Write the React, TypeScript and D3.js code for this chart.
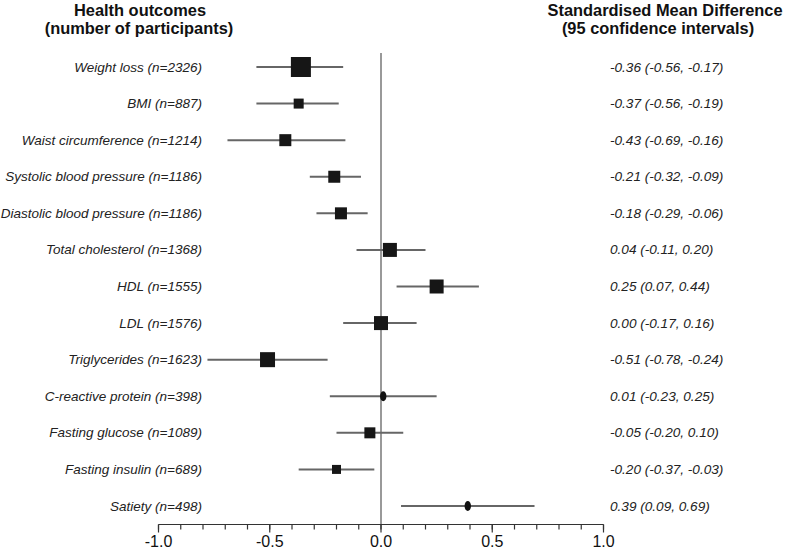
import React from "react";
import * as d3 from "d3";

const outcomes = [
  "Weight loss (n=2326)",
  "BMI (n=887)",
  "Waist circumference (n=1214)",
  "Systolic blood pressure (n=1186)",
  "Diastolic blood pressure (n=1186)",
  "Total cholesterol (n=1368)",
  "HDL (n=1555)",
  "LDL (n=1576)",
  "Triglycerides (n=1623)",
  "C-reactive protein (n=398)",
  "Fasting glucose (n=1089)",
  "Fasting insulin (n=689)",
  "Satiety (n=498)",
];
const smd = [-0.36, -0.37, -0.43, -0.21, -0.18, 0.04, 0.25, 0.0, -0.51, 0.01, -0.05, -0.2, 0.39];
const lower = [-0.56, -0.56, -0.69, -0.32, -0.29, -0.11, 0.07, -0.17, -0.78, -0.23, -0.2, -0.37, 0.09];
const upper = [-0.17, -0.19, -0.16, -0.09, -0.06, 0.2, 0.44, 0.16, -0.24, 0.25, 0.1, -0.03, 0.69];
// relative marker weight
const weights = [20, 10, 12, 12, 12, 14, 14, 14, 15, 0, 11, 9, 0];
// markers drawn as small ovals instead of squares
const ovalMarker = [false, false, false, false, false, false, false, false, false, true, false, false, true];
const ciText = [
  "-0.36 (-0.56, -0.17)",
  "-0.37 (-0.56, -0.19)",
  "-0.43 (-0.69, -0.16)",
  "-0.21 (-0.32, -0.09)",
  "-0.18 (-0.29, -0.06)",
  "0.04 (-0.11, 0.20)",
  "0.25 (0.07, 0.44)",
  "0.00 (-0.17, 0.16)",
  "-0.51 (-0.78, -0.24)",
  "0.01 (-0.23, 0.25)",
  "-0.05 (-0.20, 0.10)",
  "-0.20 (-0.37, -0.03)",
  "0.39 (0.09, 0.69)",
];
const majorTicks = [-1.0, -0.5, 0.0, 0.5, 1.0];
const tickLabels = ["-1.0", "-0.5", "0.0", "0.5", "1.0"];
const minorTicks = d3.range(-10, 11).map((d) => d / 10);

const W = 785;
const H = 558;
const FONT = "'Liberation Sans', Arial, Helvetica, sans-serif";

export default function App() {
  const x = d3.scaleLinear().domain([-1, 1]).range([158.5, 603.5]);
  const y = d3
    .scalePoint<number>()
    .domain(d3.range(outcomes.length))
    .range([67, 506]);
  const size = d3.scaleLinear().domain([0, 20]).range([0, 20]);
  const axisY = 524.5;

  return (
    <svg
      width={W}
      height={H}
      style={{ position: "absolute", left: 0, top: 0, background: "#fff" }}
      fontFamily={FONT}
    >
      {/* headers */}
      <g fontWeight="bold" fontSize={16.4} fill="#111" textAnchor="middle">
        <text x={140} y={16}>Health outcomes</text>
        <text x={139} y={34}>(number of participants)</text>
        <text x={665} y={16}>Standardised Mean Difference</text>
        <text x={658} y={34}>(95 confidence intervals)</text>
      </g>

      {/* zero line */}
      <line x1={x(0)} x2={x(0)} y1={53} y2={axisY} stroke="#777" strokeWidth={1.5} />

      {/* rows */}
      {outcomes.map((o, i) => {
        const cy = y(i)!;
        const s = size(weights[i]);
        return (
          <g key={o}>
            <text
              x={202}
              y={cy + 4.5}
              textAnchor="end"
              fontStyle="italic"
              fontSize={13.5}
              fill="#222"
            >
              {o}
            </text>
            <line
              x1={x(lower[i])}
              x2={x(upper[i])}
              y1={cy}
              y2={cy}
              stroke="#666"
              strokeWidth={2}
            />
            {ovalMarker[i] ? (
              <ellipse cx={x(smd[i])} cy={cy} rx={3.2} ry={5} fill="#111" />
            ) : (
              <rect x={x(smd[i]) - s / 2} y={cy - s / 2} width={s} height={s} fill="#161616" />
            )}
            <text x={610} y={cy + 4.5} fontStyle="italic" fontSize={13.6} fill="#222">
              {ciText[i]}
            </text>
          </g>
        );
      })}

      {/* axis */}
      <g stroke="#333" strokeWidth={1.2}>
        <line x1={x(-1)} x2={x(1)} y1={axisY} y2={axisY} />
        {minorTicks.map((t) => (
          <line key={"m" + t} x1={x(t)} x2={x(t)} y1={axisY} y2={axisY + 5} />
        ))}
        {majorTicks.map((t) => (
          <line key={"M" + t} x1={x(t)} x2={x(t)} y1={axisY} y2={axisY + 8} />
        ))}
      </g>
      <g fontSize={16} fill="#111" textAnchor="middle">
        {majorTicks.map((t, i) => (
          <text key={"l" + t} x={x(t)} y={547}>
            {tickLabels[i]}
          </text>
        ))}
      </g>
    </svg>
  );
}
